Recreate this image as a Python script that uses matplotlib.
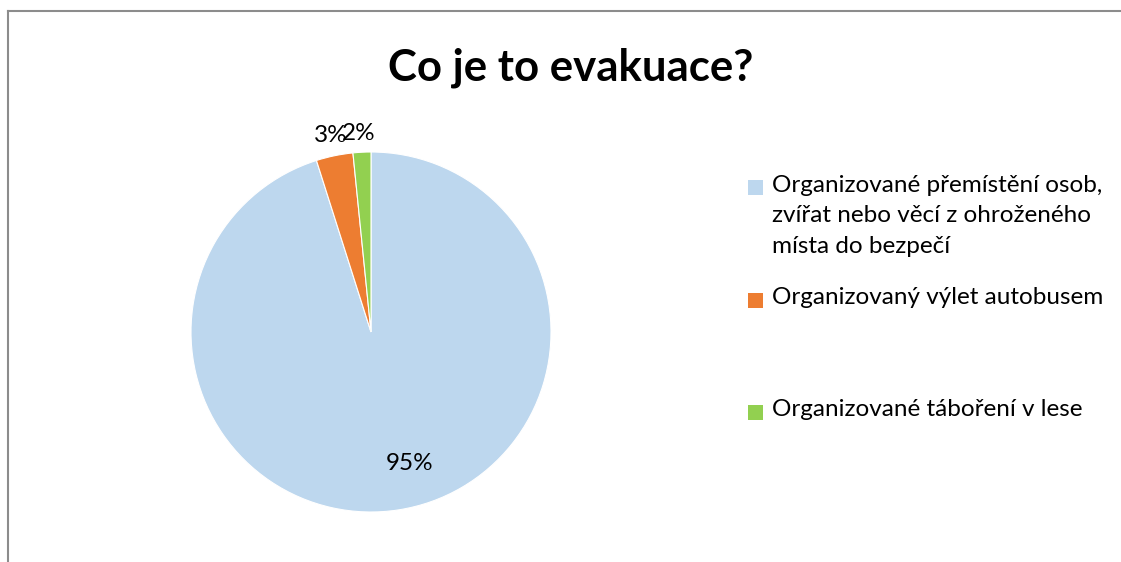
import matplotlib.pyplot as plt
from matplotlib.patches import Rectangle
from matplotlib.lines import Line2D

plt.rcParams['font.family'] = ['Lato', 'DejaVu Sans']

labels = ['Organizované přemístění osob,\nzvířat nebo věcí z ohroženého\nmísta do bezpečí',
          'Organizovaný výlet autobusem',
          'Organizované táboření v lese']
values = [95.1, 3.3, 1.6]
colors = ['#BDD7EE', '#ED7D31', '#92D050']

W, H = 1121, 562
fig = plt.figure(figsize=(W / 100, H / 100), dpi=100)

# chart border (gray frame, partly cropped)
fig.add_artist(Line2D([8 / W, 8 / W], [0, 1 - 11 / H], color='#8c8c8c', lw=1.5))
fig.add_artist(Line2D([8 / W, 1], [1 - 11 / H, 1 - 11 / H], color='#8c8c8c', lw=1.5))

fig.text(571 / W, 1 - 68 / H, 'Co je to evakuace?', ha='center', va='center',
         fontsize=31.5, fontweight='bold')

ax = fig.add_axes([191 / W, 50 / H, 360 / W, 360 / H])
wedges, texts, autotexts = ax.pie(values, colors=colors, startangle=90, counterclock=False,
                                  autopct='%.0f%%', radius=1,
                                  wedgeprops=dict(edgecolor='white', linewidth=0.8),
                                  textprops=dict(fontsize=17.5))
ax.set_xlim(-1, 1)
ax.set_ylim(-1, 1)
ax.set_aspect('equal')
ax.axis('off')

# label positions as in the original
pos = [(0.217, -0.728), (-0.225, 1.09), (-0.07, 1.10)]
for t, p in zip(autotexts, pos):
    t.set_position(p)
    t.set_ha('center')
    t.set_va('center')

# legend drawn by hand (uneven spacing as in the original)
ys = [187.5, 300, 412.5]
for lab, c, y in zip(labels, colors, ys):
    fig.add_artist(Rectangle((748 / W, 1 - (y + 7.5) / H), 15 / W, 15 / H,
                             facecolor=c, edgecolor='none', transform=fig.transFigure))
    fig.text(772 / W, 1 - (y - 13) / H, lab, ha='left', va='top', fontsize=17.5,
             linespacing=1.58)

fig.savefig('out.png', dpi=100)
